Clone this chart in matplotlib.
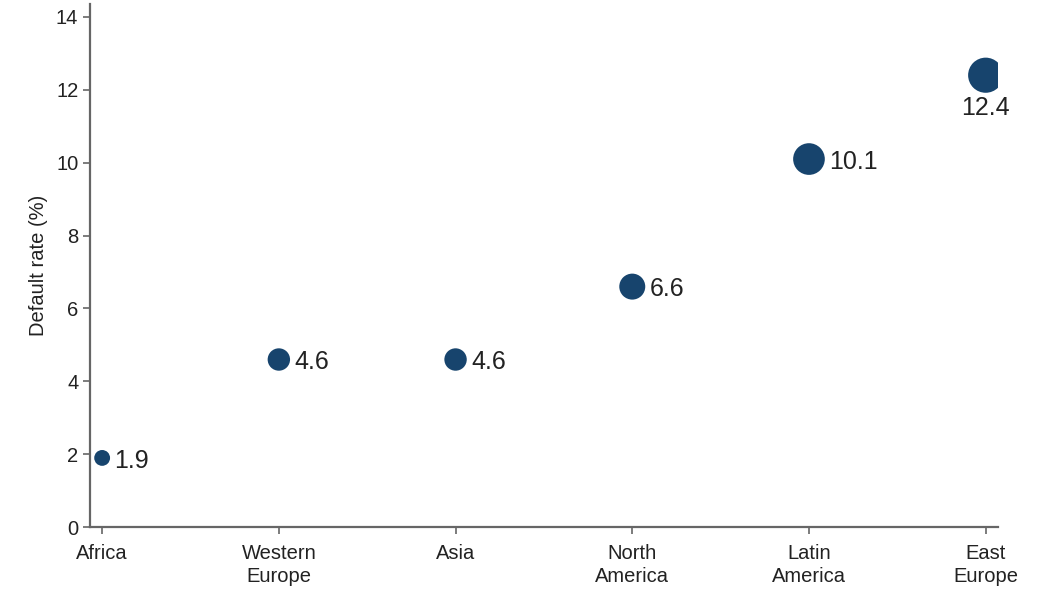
import matplotlib.pyplot as plt
import numpy as np

plt.rcParams['font.family'] = ['Liberation Sans', 'DejaVu Sans']

regions = ['Africa', 'Western\nEurope', 'Asia', 'North\nAmerica', 'Latin\nAmerica', 'East\nEurope']
default_rate = [1.9, 4.6, 4.6, 6.6, 10.1, 12.4]
bubble_size = [130, 260, 260, 350, 520, 640]
label_below = [False, False, False, False, False, True]

dot_color = '#17446d'
axis_color = '#666666'
text_color = '#222222'

fig = plt.figure(figsize=(10.48, 5.91), dpi=100)
ax = fig.add_axes([0.086, 0.108, 0.866, 0.885])

x = np.arange(len(regions))
ax.scatter(x, default_rate, s=bubble_size, color=dot_color, zorder=3, linewidths=0)

for xi, yi, s, below in zip(x, default_rate, bubble_size, label_below):
    r = np.sqrt(s) / 2
    if below:
        ax.annotate(f'{yi}', (xi, yi), xytext=(0, -r - 2), textcoords='offset points',
                    ha='center', va='top', fontsize=18, color=text_color)
    else:
        ax.annotate(f'{yi}', (xi, yi), xytext=(r + 3, -2), textcoords='offset points',
                    ha='left', va='center', fontsize=18, color=text_color)

ax.set_xlim(-0.068, 5.068)
ax.set_ylim(0, 14.35)
ax.set_xticks(x)
ax.set_xticklabels(regions, fontsize=14.5, color=text_color, linespacing=1.25)
ax.set_yticks(np.arange(0, 15, 2))
ax.tick_params(axis='y', labelsize=14.5, labelcolor=text_color, color=axis_color, length=5, width=1.2)
ax.tick_params(axis='x', color=axis_color, length=5, width=1.2, pad=7)
ax.set_ylabel('Default rate (%)', fontsize=14.5, color=text_color, labelpad=6)

for side in ['top', 'right']:
    ax.spines[side].set_visible(False)
for side in ['left', 'bottom']:
    ax.spines[side].set_color(axis_color)
    ax.spines[side].set_linewidth(1.6)

plt.savefig('out.png', dpi=100, facecolor='white')
